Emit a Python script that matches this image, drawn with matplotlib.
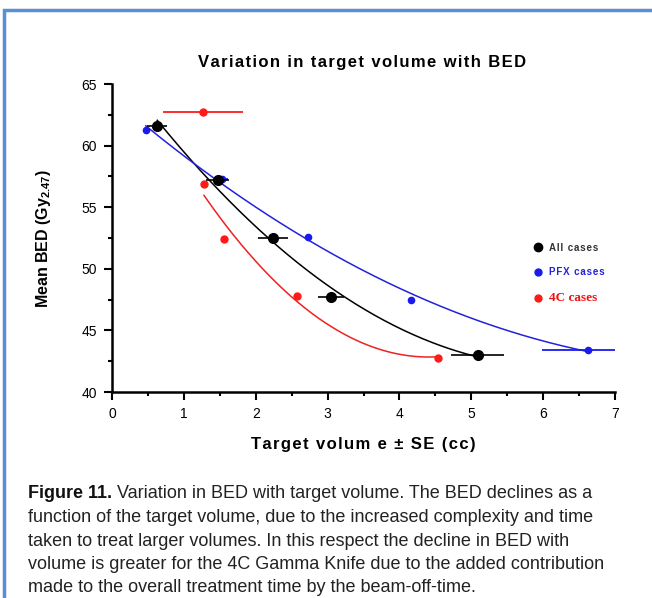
import numpy as np
import matplotlib.pyplot as plt
from matplotlib.patches import Rectangle
from matplotlib.lines import Line2D

# All cases (black)
all_x = [0.63, 1.47, 2.24, 3.05, 5.09]
all_y = [61.6, 57.2, 52.5, 47.7, 43.0]
all_xerr = [0.14, 0.16, 0.21, 0.18, 0.37]

# PFX cases (blue)
pfx_x = [0.47, 1.53, 2.73, 4.16, 6.63]
pfx_y = [61.3, 57.3, 52.6, 47.5, 43.4]
pfx_xerr = [0.0, 0.08, 0.0, 0.0, 0.65]

# 4C cases (red)
c4_x = [1.27, 1.28, 1.56, 2.57, 4.53]
c4_y = [62.7, 56.9, 52.4, 47.8, 42.8]
c4_xerr = [0.56, 0.0, 0.0, 0.0, 0.0]

xticks = [0, 1, 2, 3, 4, 5, 6, 7]
yticks = [40, 45, 50, 55, 60, 65]

plt.rcParams['font.family'] = ['Liberation Sans', 'DejaVu Sans']
plt.rcParams['mathtext.fontset'] = 'custom'
plt.rcParams['mathtext.it'] = 'Liberation Sans:italic:bold'
plt.rcParams['mathtext.rm'] = 'Liberation Sans:bold'

def spaced(s):
    # a little letter spacing, like the original
    return '\u200a'.join(s)

fig = plt.figure(figsize=(6.52, 5.98), dpi=100)
ax = fig.add_axes([112 / 652, 1 - 392 / 598, 503 / 652, 308 / 598])

def fit_line(x, y, color):
    p = np.polyfit(x, y, 2)
    xs = np.linspace(min(x), max(x), 200)
    ax.plot(xs, np.polyval(p, xs), color=color, lw=1.1)

fit_line(all_x, all_y, 'black')
fit_line(pfx_x, pfx_y, '#2222dd')
# 4C fit leaves out the high outlier
fit_line(c4_x[1:], c4_y[1:], '#ee2222')

ax.errorbar(all_x, all_y, xerr=all_xerr, fmt='o', color='black', ms=7,
            elinewidth=1.2, capsize=0, zorder=5)
ax.errorbar(pfx_x, pfx_y, xerr=pfx_xerr, fmt='o', color='#1a1aee', ms=4.5,
            elinewidth=1.3, capsize=0, zorder=4)
ax.errorbar(c4_x, c4_y, xerr=c4_xerr, fmt='o', color='#ff1a1a', ms=5,
            elinewidth=1.3, capsize=0, zorder=4)

ax.set_xlim(0, 7)
ax.set_ylim(40, 65)
ax.set_xticks(xticks)
ax.set_yticks(yticks)
ax.set_xticks(np.arange(0.5, 7, 1), minor=True)
ax.set_yticks(np.arange(42.5, 65, 5), minor=True)
for s in ['top', 'right']:
    ax.spines[s].set_visible(False)
for s in ['left', 'bottom']:
    ax.spines[s].set_linewidth(1.8)
ax.tick_params(which='major', length=6, width=1.5, labelsize=10, pad=5)
ax.tick_params(which='minor', length=3, width=1.5)

ax.set_xlabel(spaced('Target volum e ± SE (cc)'), fontsize=12, fontweight='bold', labelpad=11)
ax.set_ylabel(r'Mean BED (Gy$_{\mathit{2.47}}$)', fontsize=11.5, fontweight='bold', labelpad=20)
fig.text(362 / 652, 1 - 62 / 598, spaced('Variation in target volume with BED'),
         ha='center', va='center', fontsize=12, fontweight='bold')

handles = [Line2D([], [], ls='', marker='o', color='black', ms=6),
           Line2D([], [], ls='', marker='o', color='#1a1aee', ms=5),
           Line2D([], [], ls='', marker='o', color='#ff1a1a', ms=5)]
leg = ax.legend(handles, [spaced('All cases'), spaced('PFX cases'), '4C cases'], frameon=False,
                loc='center left', bbox_to_anchor=(0.82, 0.385), fontsize=7,
                labelspacing=1.5, handletextpad=0.6, handlelength=1)
tx = leg.get_texts()
tx[0].set_color('#333333')
tx[1].set_color('#2222dd')
tx[0].set_fontweight('bold')
tx[1].set_fontweight('bold')
tx[2].set_color('#ee1111')
tx[2].set_fontfamily('Liberation Serif')
tx[2].set_fontweight('bold')
tx[2].set_fontsize(9.5)

# caption
lines = ['function of the target volume, due to the increased complexity and time',
         'taken to treat larger volumes. In this respect the decline in BED with',
         'volume is greater for the 4C Gamma Knife due to the added contribution',
         'made to the overall treatment time by the beam-off-time.']
bold = fig.text(28 / 652, 1 - 498 / 598, 'Figure 11.', fontsize=13, fontweight='bold',
                va='baseline', color='#111111')
r = fig.canvas.get_renderer()
bb = bold.get_window_extent(r)
fig.text((bb.x1 + 5) / 652, 1 - 498 / 598, 'Variation in BED with target volume. The BED declines as a',
         fontsize=13, va='baseline', color='#222222')
for i, ln in enumerate(lines):
    fig.text(28 / 652, 1 - (522 + 23.5 * i) / 598, ln, fontsize=13, va='baseline', color='#222222')

fig.patches.append(Rectangle((4 / 652, -0.1), 1.1, 1 - 10 / 598 + 0.1, transform=fig.transFigure,
                             fill=False, edgecolor='#5b8fd3', lw=2.5))

fig.savefig('out.png', dpi=100)
